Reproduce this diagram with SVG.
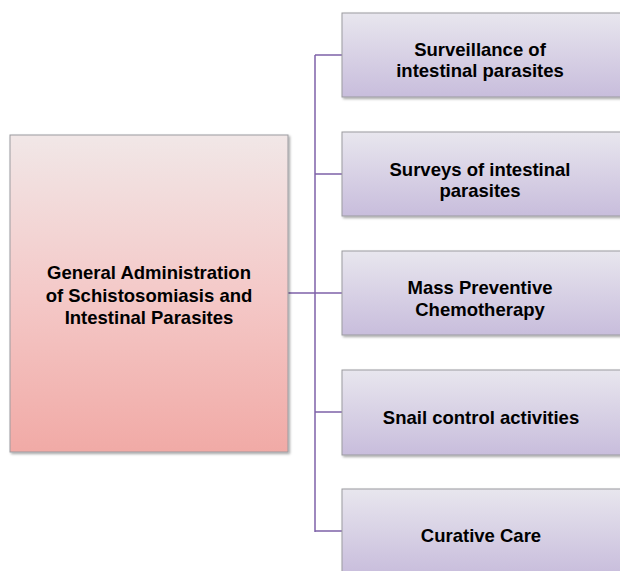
<svg xmlns="http://www.w3.org/2000/svg" width="620" height="571" viewBox="0 0 620 571">
<defs>
<linearGradient id="gPink" x1="0" y1="0" x2="0" y2="1">
<stop offset="0" stop-color="#f1e7e7"/>
<stop offset="0.5" stop-color="#f4c9c8"/>
<stop offset="1" stop-color="#f1aaa6"/>
</linearGradient>
<linearGradient id="gLav" x1="0" y1="0" x2="0" y2="1">
<stop offset="0" stop-color="#e8e6ee"/>
<stop offset="1" stop-color="#c8bddc"/>
</linearGradient>
<filter id="sh" x="-5%" y="-5%" width="115%" height="115%">
<feDropShadow dx="1.5" dy="1.5" stdDeviation="1.2" flood-color="#000" flood-opacity="0.35"/>
</filter>
</defs>
<style>
.box{stroke:#9b9b9f;stroke-width:1;filter:url(#sh)}
.pink{fill:url(#gPink)}
.lav{fill:url(#gLav)}
text{font-family:"Liberation Sans",Arial,sans-serif;font-weight:bold;fill:#000;text-anchor:middle}
.t{font-size:18.5px}
.conn{stroke:#7e61a8;stroke-width:1.5;fill:none}
</style>
<g id="connectors">
<path class="conn" d="M315,55 V532"/>
<path class="conn" d="M288,293 H342" stroke-width="2"/>
<path class="conn" d="M315,55 H342 M315,174 H342 M315,412 H342 M315,531 H342"/>
</g>
<g id="root">
<rect class="box pink" x="10" y="135" width="278" height="317"/>
<text class="t" x="149" y="279">General Administration</text>
<text class="t" x="149" y="301.5">of Schistosomiasis and</text>
<text class="t" x="149" y="324">Intestinal Parasites</text>
</g>
<g id="n1">
<rect class="box lav" x="342" y="13" width="290" height="84"/>
<text class="t" x="480" y="55.5">Surveillance of</text>
<text class="t" x="480" y="77">intestinal parasites</text>
</g>
<g id="n2">
<rect class="box lav" x="342" y="132" width="290" height="84"/>
<text class="t" x="480" y="175.5">Surveys of intestinal</text>
<text class="t" x="480" y="197">parasites</text>
</g>
<g id="n3">
<rect class="box lav" x="342" y="251" width="290" height="84"/>
<text class="t" x="480" y="294">Mass Preventive</text>
<text class="t" x="480" y="315.5">Chemotherapy</text>
</g>
<g id="n4">
<rect class="box lav" x="342" y="370" width="290" height="85"/>
<text class="t" x="481" y="423.5">Snail control activities</text>
</g>
<g id="n5">
<rect class="box lav" x="342" y="489" width="290" height="86"/>
<text class="t" x="481" y="541.5">Curative Care</text>
</g>
</svg>
